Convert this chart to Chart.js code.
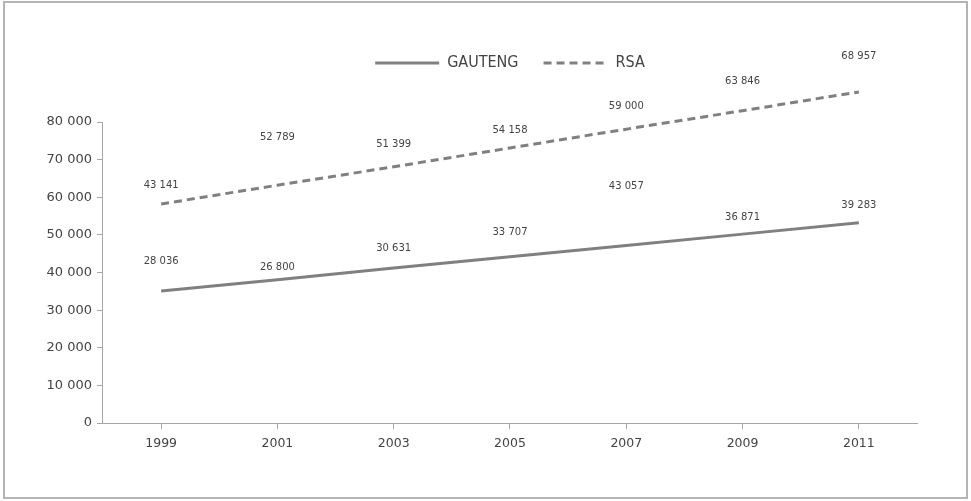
<!DOCTYPE html>
<html>
<head>
<meta charset="utf-8">
<script src="https://cdn.jsdelivr.net/npm/chart.js@4.4.1/dist/chart.umd.min.js"></script>
<style>
	html, body { margin: 0; padding: 0; background: #ffffff; }
	#wrap { position: relative; width: 971px; height: 501px; }
	#frame { position: absolute; left: 3px; top: 1px; width: 961px; height: 494px; border: 2px solid #b4b4b4; }
	#chart { position: absolute; left: 0; top: 0; }
</style>
</head>
<body>
<div id="wrap">
	<div id="frame"></div>
	<canvas id="chart" width="971" height="501"></canvas>
</div>
<script>
// Years on the x axis
let years = ["1999", "2001", "2003", "2005", "2007", "2009", "2011"];

// Values printed as labels in the chart
let gautengValues = [28036, 26800, 30631, 33707, 43057, 36871, 39283];
let rsaValues = [43141, 52789, 51399, 54158, 59000, 63846, 68957];

// The two drawn lines
let gautengLine = [35100, 38100, 41200, 44200, 47200, 50200, 53200];
let rsaLine = [58200, 63200, 68100, 73100, 78100, 83000, 88000];

// Left axis ticks
let yTicks = [0, 10000, 20000, 30000, 40000, 50000, 60000, 70000, 80000];

let lineGrey = "#808080";
let textGrey = "#444444";
let axisGrey = "#a6a6a6";

// Formats 43141 as "43 141"
function spaced(v) {
	return String(v).replace(/\B(?=(\d{3})+(?!\d))/g, " ");
}

// Draws the value labels above the hidden value points
const valueLabels = {
	id: "valueLabels",
	afterDatasetsDraw(chart) {
		let ctx = chart.ctx;
		ctx.save();
		ctx.font = "10px 'DejaVu Sans'";
		ctx.fillStyle = textGrey;
		ctx.textAlign = "center";
		ctx.textBaseline = "middle";
		chart.data.datasets.forEach(function (ds, i) {
			if (!ds.valueLabels) return;
			chart.getDatasetMeta(i).data.forEach(function (pt, j) {
				ctx.fillText(spaced(ds.data[j]), pt.x, pt.y - 21);
			});
		});
		ctx.restore();
	},
};

// Leaves some room between the legend and the plot
const legendRoom = {
	id: "legendRoom",
	beforeInit(chart) {
		const fit = chart.legend.fit;
		chart.legend.fit = function () {
			fit.bind(chart.legend)();
			this.height += 41;
		};
	},
};

const data = {
	labels: years,
	datasets: [
		{
			label: "GAUTENG",
			data: gautengLine,
			borderColor: lineGrey,
			backgroundColor: lineGrey,
			borderWidth: 3,
			pointRadius: 0,
			clip: false,
		},
		{
			label: "RSA",
			data: rsaLine,
			borderColor: lineGrey,
			backgroundColor: lineGrey,
			borderWidth: 3,
			borderDash: [8, 5],
			pointRadius: 0,
			clip: false,
		},
		{
			label: "gauteng values",
			data: gautengValues,
			yAxisID: "y2",
			showLine: false,
			pointRadius: 0,
			valueLabels: true,
			clip: false,
		},
		{
			label: "rsa values",
			data: rsaValues,
			yAxisID: "y2",
			showLine: false,
			pointRadius: 0,
			valueLabels: true,
			clip: false,
		},
	],
};

const chartConfig = {
	type: "line",
	data: data,
	options: {
		responsive: false,
		animation: false,
		layout: {
			padding: { top: 30, left: 41.5, right: 54, bottom: 43 },
		},
		plugins: {
			legend: {
				position: "top",
				fullSize: false,
				labels: {
					usePointStyle: true,
					pointStyle: "line",
					pointStyleWidth: 64,
					padding: 25,
					color: textGrey,
					font: { family: "'DejaVu Sans Condensed', 'DejaVu Sans'", size: 16 },
					// only the two lines, with their own dash
					generateLabels: function (chart) {
						let items = Chart.defaults.plugins.legend.labels.generateLabels(chart);
						items = items.filter(function (item) { return item.datasetIndex < 2; });
						items.forEach(function (item) {
							let ds = chart.data.datasets[item.datasetIndex];
							item.lineDash = ds.borderDash || [];
							item.lineWidth = ds.borderWidth;
							item.strokeStyle = ds.borderColor;
						});
						return items;
					},
				},
			},
			tooltip: { enabled: false },
		},
		scales: {
			x: {
				offset: true,
				grid: { drawOnChartArea: false, offset: false, tickLength: 6, color: axisGrey },
				border: { color: axisGrey },
				ticks: { color: textGrey, padding: 7, font: { family: "'DejaVu Sans'", size: 12.5 } },
			},
			y: {
				min: yTicks[0],
				max: yTicks[yTicks.length - 1],
				afterBuildTicks: function (axis) {
					axis.ticks = yTicks.map(function (v) { return { value: v }; });
				},
				grid: { drawOnChartArea: false, tickLength: 6, color: axisGrey },
				border: { color: axisGrey },
				ticks: {
					color: textGrey,
					padding: 5,
					font: { family: "'DejaVu Sans'", size: 13 },
					callback: function (v) { return spaced(v); },
				},
			},
			y2: {
				display: false,
				min: 0,
				max: 60000,
			},
		},
	},
	plugins: [valueLabels, legendRoom],
};

let incomeChart = new Chart(document.getElementById("chart"), chartConfig);
</script>
</body>
</html>
